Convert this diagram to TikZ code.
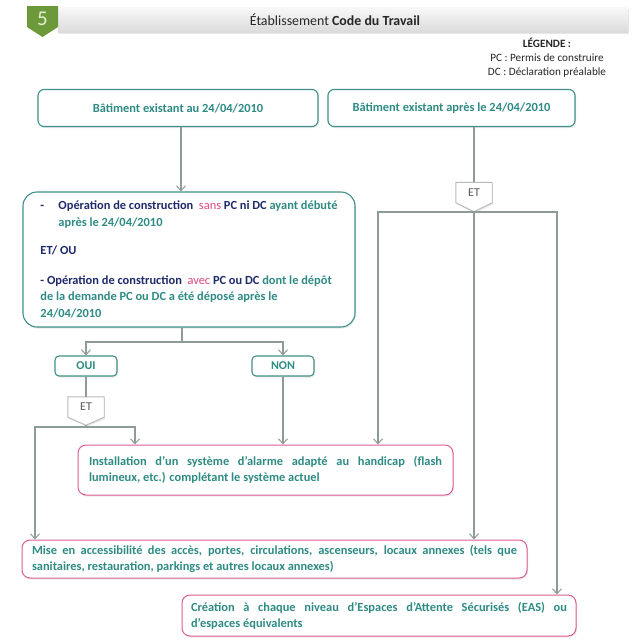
\documentclass[tikz,border=0pt]{standalone}
\usepackage{fontspec}
\setmainfont{Carlito}
\usetikzlibrary{arrows.meta,shadows,backgrounds,calc}
\definecolor{tealt}{HTML}{2E8B84}
\definecolor{tealb}{HTML}{3F8F8A}
\definecolor{navy}{HTML}{1F2A6B}
\definecolor{pinkt}{HTML}{E0457B}
\definecolor{pinkb}{HTML}{DE5C92}
\definecolor{linec}{HTML}{8E9C98}
\definecolor{badge}{HTML}{6C9A3A}
\definecolor{badgetext}{HTML}{E4EDD6}
\begin{document}
\begin{tikzpicture}[x=1pt,y=-1pt,
  conn/.style={draw=linec, line width=1.1pt},
  arr/.style={conn, -{Straight Barb[length=5pt,width=9pt,line width=1pt]}},
  shad/.style={drop shadow={opacity=0.18,shadow xshift=1pt,shadow yshift=-1.5pt}},
  tbox/.style={draw=tealb, line width=1.1pt, rounded corners=6pt, fill=white, shad,
    font=\fontsize{12.4}{16.5}\selectfont\bfseries, text=tealt},
  pbox/.style={draw=pinkb, line width=1pt, rounded corners=8pt, fill=white, shad,
    font=\fontsize{12.4}{16}\selectfont\bfseries, text=tealt, align=justify, inner sep=0pt},
  etnode/.style={minimum width=36pt, minimum height=20pt, inner sep=0pt, text=gray!70!black,
    font=\fontsize{12}{12}\selectfont},
  etshape/.style={draw=gray!55, line width=0.9pt, fill=white, shad},
  legend/.style={align=center, font=\fontsize{11.2}{14}\selectfont, text=black!85}
]
\useasboundingbox (0,0) rectangle (632,643);

% header
\path[top color=gray!5, bottom color=gray!28, shad] (58,7) rectangle (628,32);
\fill[badge] (27,6) -- (58,6) -- (58,27) -- (42.5,37) -- (27,27) -- cycle;
\node[text=badgetext, font=\fontsize{21}{21}\selectfont] (five) at (42.5,18.5) {5};
\node[font=\fontsize{13.9}{15}\selectfont, text=black!85] (title) at (335,20) {Établissement \textbf{Code du Travail}};
\node[legend] (leg) at (547,58) {\textbf{LÉGENDE :}\\PC : Permis de construire\\DC : Déclaration préalable};

% boxes
\node[tbox, minimum width=280pt, minimum height=37pt] (b1) at (178,108) {Bâtiment existant au 24/04/2010};
\node[tbox, minimum width=247pt, minimum height=37pt] (b2) at (451.5,108) {Bâtiment existant après le 24/04/2010};

\node[tbox, rounded corners=14pt, minimum width=332pt, minimum height=135pt, align=left] (b3) at (189,259.5)
{\textcolor{navy}{\makebox[18pt][l]{-}Opération de construction}\ \ \textcolor{pinkt}{\mdseries sans} \textcolor{navy}{PC ni DC} ayant débuté\\
\hspace*{18pt}après le 24/04/2010\\[12pt]
\textcolor{navy}{ET/ OU}\\[13pt]
\textcolor{navy}{- Opération de construction}\ \ \textcolor{pinkt}{\mdseries avec} \textcolor{navy}{PC ou DC} dont le dépôt\\
de la demande PC ou DC a été déposé après le\\
24/04/2010};

\node[tbox, rounded corners=4pt, minimum width=62pt, minimum height=20pt, font=\fontsize{12}{12}\selectfont\bfseries] (oui) at (86,366) {OUI};
\node[tbox, rounded corners=4pt, minimum width=62pt, minimum height=20pt, font=\fontsize{12}{12}\selectfont\bfseries] (non) at (283,366) {NON};

\node[pbox, minimum width=375pt, minimum height=50pt, text width=353pt] (alarm) at (265.5,470)
{Installation d’un système d’alarme adapté au handicap (flash\linebreak lumineux, etc.) complétant le système actuel};
\node[pbox, minimum width=505pt, minimum height=38pt, text width=485pt] (mise) at (274.5,559)
{Mise en accessibilité des accès, portes, circulations, ascenseurs, locaux annexes (tels que\linebreak sanitaires, restauration, parkings et autres locaux annexes)};
\node[pbox, minimum width=394pt, minimum height=41pt, text width=376pt] (cre) at (379,615.5)
{Création à chaque niveau d’Espaces d’Attente Sécurisés (EAS) ou\linebreak d’espaces équivalents};

% ET nodes
\node[etnode] (et1) at (86,407) {ET};
\node[etnode] (et2) at (474,192.5) {ET};
\begin{scope}[on background layer]
\fill[white] (0,0) rectangle (632,643);
\draw[etshape] (et1.north west) -- (et1.north east) -- (et1.south east) -- ([yshift=-8pt]et1.south) -- (et1.south west) -- cycle;
\draw[etshape] (et2.north west) -- (et2.north east) -- (et2.south east) -- ([yshift=-9pt]et2.south) -- (et2.south west) -- cycle;
\end{scope}

% coordinates
\coordinate (xA) at (181,0);
\coordinate (s1) at (182,342);
\coordinate (t1) at (86,427);
\coordinate (l1) at (35,427);
\coordinate (r1) at (135,427);
\coordinate (t2) at (474,212);
\coordinate (l2) at (378,212);
\coordinate (r2) at (557,212);

% connectors
\draw[arr] (b1.south -| xA) -- (b3.north -| xA);
\draw[conn] (b3.south -| s1) -- (s1);
\draw[arr] (s1) -| (oui.north);
\draw[arr] (s1) -| (non.north);
\draw[conn] (oui.south) -- (et1.north);
\draw[conn] ([yshift=-8pt]et1.south) -- (t1);
\draw[arr] (t1) -- (l1) -- (l1 |- mise.north);
\draw[arr] (t1) -- (r1) -- (r1 |- alarm.north);
\draw[arr] (non.south) -- (non.south |- alarm.north);

\draw[conn] (b2.south -| t2) -- (et2.north);
\draw[arr] (t2) -- (l2) -- (l2 |- alarm.north);
\draw[arr] (t2) -- (t2 |- mise.north);
\draw[arr] (t2) -- (r2) -- (r2 |- cre.north);
\end{tikzpicture}
\end{document}
